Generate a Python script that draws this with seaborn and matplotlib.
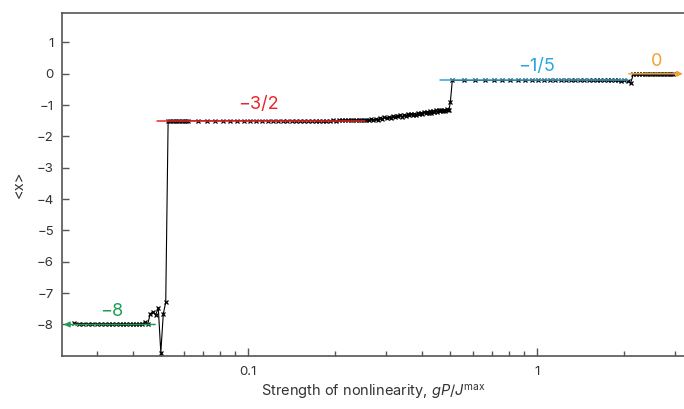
import pandas as pd
import seaborn as sns
import matplotlib.pyplot as plt
from matplotlib.ticker import NullFormatter

# plateau at -8
x_a = [0.025, 0.026, 0.027, 0.028, 0.029, 0.030, 0.031, 0.032, 0.033, 0.034,
       0.035, 0.036, 0.037, 0.038, 0.039, 0.040, 0.041, 0.042, 0.043, 0.044, 0.045]
y_a = [-7.96, -7.97, -7.97, -7.98, -7.97, -7.98, -7.98, -7.99, -7.98, -7.99,
       -7.99, -7.98, -7.99, -7.99, -7.98, -7.99, -7.99, -7.98, -7.98, -7.93, -8.00]

# unstable region before the jump
x_b = [0.046, 0.047, 0.048, 0.049, 0.050, 0.051, 0.052]
y_b = [-7.65, -7.60, -7.70, -7.46, -8.90, -7.66, -7.29]

# plateau at -3/2
x_c = [0.053, 0.054, 0.055, 0.056, 0.057, 0.058, 0.059, 0.060, 0.061, 0.062,
       0.067, 0.072, 0.077, 0.082, 0.087, 0.092, 0.097, 0.102, 0.107, 0.112,
       0.117, 0.122, 0.127, 0.132, 0.137, 0.142, 0.147, 0.152, 0.157, 0.162,
       0.167, 0.172, 0.177, 0.182, 0.187, 0.192, 0.197, 0.202, 0.207, 0.212,
       0.217, 0.222, 0.227, 0.232, 0.237, 0.242, 0.247]
y_c = [-1.51, -1.50, -1.51, -1.50, -1.50, -1.51, -1.50, -1.50, -1.51, -1.50,
       -1.50, -1.50, -1.50, -1.50, -1.50, -1.50, -1.50, -1.50, -1.50, -1.50,
       -1.50, -1.50, -1.50, -1.50, -1.50, -1.50, -1.50, -1.50, -1.50, -1.50,
       -1.50, -1.50, -1.50, -1.50, -1.50, -1.50, -1.49, -1.50, -1.49, -1.49,
       -1.49, -1.48, -1.49, -1.48, -1.49, -1.48, -1.48]

# slow rise
x_d = [0.252, 0.257, 0.262, 0.267, 0.272, 0.277, 0.282, 0.287, 0.292, 0.297,
       0.302, 0.307, 0.312, 0.317, 0.322, 0.327, 0.332, 0.337, 0.342, 0.347,
       0.352, 0.357, 0.362, 0.367, 0.372, 0.377, 0.382, 0.387, 0.392, 0.397,
       0.402, 0.407, 0.412, 0.417, 0.422, 0.427, 0.432, 0.437, 0.442, 0.447,
       0.452, 0.457, 0.462, 0.467, 0.472, 0.477, 0.482, 0.487, 0.492, 0.497,
       0.502]
y_d = [-1.48, -1.46, -1.49, -1.45, -1.47, -1.44, -1.46, -1.41, -1.44, -1.39,
       -1.42, -1.37, -1.40, -1.35, -1.38, -1.34, -1.36, -1.32, -1.37, -1.31,
       -1.34, -1.29, -1.33, -1.28, -1.31, -1.27, -1.30, -1.25, -1.29, -1.24,
       -1.27, -1.22, -1.26, -1.21, -1.25, -1.20, -1.24, -1.18, -1.23, -1.17,
       -1.21, -1.16, -1.20, -1.15, -1.19, -1.14, -1.18, -1.13, -1.17, -1.15,
       -0.91]

# plateau at -1/5
x_e = [0.51, 0.56, 0.61, 0.66, 0.71, 0.76, 0.81, 0.86, 0.91, 0.96,
       1.01, 1.06, 1.11, 1.16, 1.21, 1.26, 1.31, 1.36, 1.41, 1.46,
       1.51, 1.56, 1.61, 1.66, 1.71, 1.76, 1.81, 1.86, 1.91, 1.96,
       2.01, 2.06, 2.11]
y_e = [-0.21, -0.21, -0.21, -0.21, -0.21, -0.21, -0.21, -0.21, -0.21, -0.21,
       -0.21, -0.21, -0.21, -0.21, -0.21, -0.21, -0.21, -0.21, -0.21, -0.21,
       -0.21, -0.21, -0.21, -0.21, -0.21, -0.21, -0.21, -0.21, -0.21, -0.22,
       -0.21, -0.22, -0.30]

# plateau at 0
x_f = [2.16, 2.21, 2.26, 2.31, 2.36, 2.41, 2.46, 2.51, 2.56, 2.61,
       2.66, 2.71, 2.76, 2.81, 2.86, 2.91, 2.96]
y_f = [0.00, -0.01, 0.00, 0.00, -0.01, 0.00, 0.00, 0.00, -0.01, 0.00,
       0.00, 0.00, 0.00, -0.01, 0.00, 0.00, 0.00]

# reference levels
levels = [-8, -1.5, -0.2, 0]
level_labels = ["\u22128", "\u22123/2", "\u22121/5", "0"]
level_colors = ["#1f9d55", "#e8262d", "#29a6dd", "#f5a033"]

sns.set_theme(style="ticks")
plt.rcParams["font.family"] = ["Inter", "DejaVu Sans"]
plt.rcParams["mathtext.fontset"] = "custom"
plt.rcParams["mathtext.rm"] = "Inter"
plt.rcParams["mathtext.it"] = "Inter:italic"

df = pd.DataFrame({
    "x": x_a + x_b + x_c + x_d + x_e + x_f,
    "y": y_a + y_b + y_c + y_d + y_e + y_f,
})

fig = plt.figure(figsize=(6.84, 4.09), dpi=100)
ax = fig.add_axes([0.091, 0.130, 0.909, 0.839])
ax.set_xscale("log")

sns.lineplot(data=df, x="x", y="y", ax=ax, color="black", marker="x",
             markersize=3, markeredgewidth=0.9, markeredgecolor="black",
             linewidth=0.8, sort=False, estimator=None, zorder=2)

# coloured guide lines (extent, label position, arrow direction)
spans = [(0.0478, 0.0231), (0.0486, 0.254), (0.463, 2.07), (2.08, 3.2)]
label_pos = [(0.0337, -7.58), (0.1086, -0.97), (1.0, 0.22), (2.59, 0.38)]
arrows = [True, False, False, True]

for lev, lab, col, (x0, x1), (tx, ty), arr in zip(levels, level_labels, level_colors,
                                                  spans, label_pos, arrows):
    if arr:
        ax.annotate("", xy=(x1, lev), xytext=(x0, lev),
                    arrowprops=dict(arrowstyle="-|>", color=col, lw=1.1,
                                    mutation_scale=8, shrinkA=0, shrinkB=0),
                    zorder=3)
    else:
        ax.plot([x0, x1], [lev, lev], color=col, lw=1.1, zorder=3)
    ax.text(tx, ty, lab, color=col, fontsize=13, ha="center", va="center")

ax.set_xlim(0.0228, 3.23)
ax.set_ylim(-9.0, 1.95)
ax.set_yticks(range(-8, 2))
ax.set_xticks([0.1, 1])
ax.set_xticklabels(["0.1", "1"])
ax.xaxis.set_minor_formatter(NullFormatter())

ax.tick_params(which="both", direction="in", color="#555555", width=1,
               labelcolor="#333333", labelsize=9.5)
ax.tick_params(axis="x", which="major", length=6, pad=7)
ax.tick_params(axis="x", which="minor", length=3.5)
ax.tick_params(axis="y", which="major", length=5, pad=6)

sns.despine(ax=ax, top=False, right=True)
for side in ["left", "bottom", "top"]:
    ax.spines[side].set_color("#555555")
    ax.spines[side].set_linewidth(1.2)

ax.set_xlabel("Strength of nonlinearity, $gP/J^{\\mathrm{max}}$",
              fontsize=10.5, color="#333333", labelpad=4)
ax.set_ylabel("<x>", fontsize=10.5, color="#333333", labelpad=8)

fig.savefig("out.png", dpi=100)
